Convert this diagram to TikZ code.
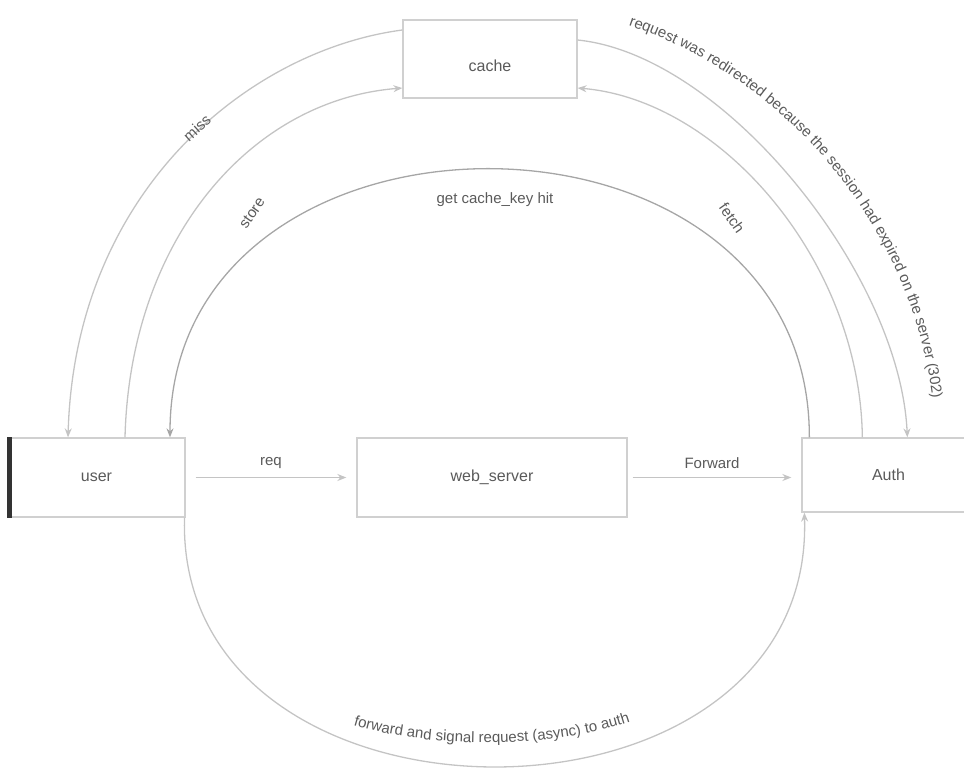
\documentclass[tikz,border=0pt]{standalone}
\usepackage{fontspec}
\setmainfont{Liberation Sans}
\usetikzlibrary{arrows.meta,decorations.text}
\definecolor{arcgray}{HTML}{C4C4C4}
\definecolor{innergray}{HTML}{A6A6A6}
\definecolor{boxgray}{HTML}{D0D0D0}
\definecolor{txtgray}{HTML}{5A5A5A}
\definecolor{bargray}{HTML}{333333}
\begin{document}
\begin{tikzpicture}[x=1pt,y=-1pt,
  box/.style={draw=boxgray, line width=1.3pt, fill=white, text=txtgray,
    font=\fontsize{16}{18}\selectfont, inner sep=0pt},
  conn/.style={draw=arcgray, line width=1.3pt, -{Stealth[length=9pt,width=7pt]}},
  innerconn/.style={conn, draw=innergray},
  lbl/.style={text=txtgray, font=\fontsize{15}{17}\selectfont, inner sep=1pt}]
\useasboundingbox (0,0) rectangle (964,772);

% boxes
\node[box, minimum width=177pt, minimum height=79pt] (user) at (96.5,477.5) {user};
\node[box, minimum width=270pt, minimum height=79pt] (web) at (492,477.5) {web\_server};
\node[box, minimum width=173pt, minimum height=74pt] (right) at (888.5,475) {Auth};
\node[box, minimum width=174pt, minimum height=78pt, text height=29pt, text depth=3.5pt] (top) at (490,59) {cache};
\draw[bargray, line width=5pt] ([xshift=2.5pt]user.north west) -- ([xshift=2.5pt]user.south west);

% straight connectors
\draw[conn] ([xshift=10pt]user.east) -- ([xshift=-10pt]web.west)
  node[lbl, midway, above=7pt] {req};
\draw[conn] ([xshift=5pt]web.east) -- ([xshift=-10pt]web.east -| right.west)
  node[lbl, midway, above=7pt] {Forward};

% left arcs
\draw[conn] ([yshift=29pt]top.west) .. controls (250,50) and (75,190) .. ([xshift=-28.5pt]user.north);
\draw[conn] ([xshift=28.5pt]user.north) .. controls (130,240) and (250,100) .. ([yshift=-29pt]top.west);
% inner arc
\draw[innerconn] ([xshift=8pt]right.north west) .. controls (810,80) and (170,80) .. ([xshift=73.5pt]user.north);
% right arcs
\draw[conn] ([xshift=61pt]right.north west) .. controls (860,260) and (720,100) .. ([yshift=-29pt]top.east);
\draw[conn] ([yshift=19pt]top.east) .. controls (725,55) and (900,275) .. ([xshift=106pt]right.north west);
% bottom arc
\draw[conn] ([xshift=88pt]user.south) .. controls (175,850) and (815,850) .. ([xshift=3pt]right.south west);

% arc labels
\node[lbl, rotate=42] (lmiss) at (197,128) {miss};
\node[lbl, rotate=55] (lstore) at (252,213) {store};
\node[lbl, rotate=-55] (lfetch) at (732,218) {fetch};
\node[lbl] (lget) at (495,200) {get cache\_key hit};

% long curved labels
\path[decorate, decoration={text along path, text align=center,
  text={|\fontsize{15}{17}\selectfont\color{txtgray}|request was redirected because the session had expired on the server (302)}}]
  (588,14) .. controls (770,55) and (928,225) .. (936,440);
\path[decorate, decoration={text along path, text align=center,
  text={|\fontsize{15}{17}\selectfont\color{txtgray}|forward and signal request (async) to auth}}]
  (315,710) .. controls (400,754) and (580,754) .. (668,706);
\end{tikzpicture}
\end{document}
